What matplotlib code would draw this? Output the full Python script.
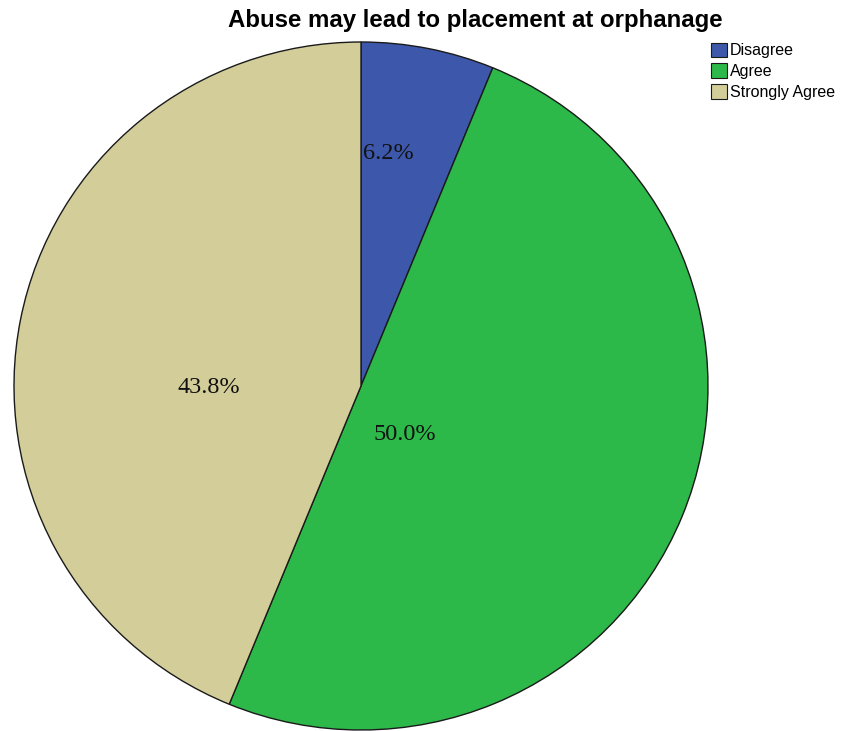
import matplotlib

matplotlib.use("Agg")

import matplotlib.pyplot as plt  # noqa: E402
from matplotlib.patches import Patch  # noqa: E402

# Survey answer shares (percent), clockwise from 12 o'clock
categories = ["Disagree", "Agree", "Strongly Agree"]
shares = [6.2, 50.0, 43.8]
colors = ["#3d58aa", "#2db84a", "#d3ce99"]
# where the chart software put each percentage label (data units, pie radius = 1)
label_xy = [(0.078, 0.677), (0.127, -0.142), (-0.438, -0.003)]

fig = plt.figure(figsize=(8.42, 7.31), dpi=100)
ax = fig.add_axes([14 / 842, 1 / 731, 694 / 842, 688 / 731])

wedges, _ = ax.pie(shares, colors=colors, startangle=90, counterclock=False,
                   radius=1.0, wedgeprops=dict(edgecolor="#1a1a1a", linewidth=1.0))
ax.set_aspect("auto")
ax.set_xlim(-1, 1)
ax.set_ylim(-1, 1)
ax.set_axis_off()

for share, (x, y) in zip(shares, label_xy):
    ax.text(x, y, f"{share:.1f}%", ha="center", va="center", fontsize=17.5,
            family="Liberation Serif", color="#111111")

fig.text(475 / 842, 1 - 21 / 731, "Abuse may lead to placement at orphanage",
         ha="center", va="center", fontsize=17.3, fontweight="bold", family="Liberation Sans")

handles = [Patch(facecolor=c, edgecolor="#1a1a1a", linewidth=0.8) for c in colors]
fig.legend(handles, categories, loc="upper left", bbox_to_anchor=(709 / 842, 1 - 41 / 731),
           frameon=False, prop={"family": "Liberation Sans", "size": 11.5},
           handlelength=1.0, handleheight=1.05, handletextpad=0.2, labelspacing=0.3,
           borderpad=0.1, borderaxespad=0)

fig.savefig("out.png", dpi=100)
plt.close(fig)
